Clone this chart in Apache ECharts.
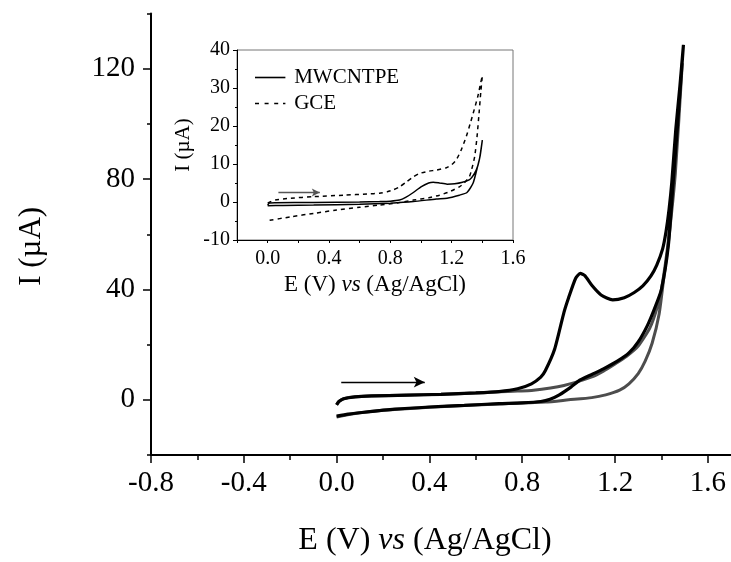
<!DOCTYPE html>
<html>
<head>
<meta charset="utf-8">
<script src="https://cdn.jsdelivr.net/npm/echarts@6/dist/echarts.min.js"></script>
<style>
  html, body { margin: 0; padding: 0; background: #fff; }
  #chart { width: 731px; height: 562px; }
</style>
</head>
<body>
<div id="chart"></div>
<script>
var FONT = '"Liberation Serif", "Times New Roman", serif';

// main plot: CV with analyte (black), forward sweep then reverse sweep
var mainSampleE = [0, 0.01, 0.03, 0.08, 0.15, 0.3, 0.45, 0.6, 0.7, 0.78, 0.84, 0.88, 0.9, 0.94, 0.98, 1.0, 1.03, 1.05, 1.07, 1.1, 1.14, 1.19, 1.24, 1.283, 1.32, 1.355, 1.38, 1.405, 1.42, 1.433, 1.445, 1.462, 1.48, 1.495,
                   1.47, 1.45, 1.43, 1.40, 1.37, 1.34, 1.30, 1.26, 1.21, 1.15, 1.10, 1.05, 1.01, 0.96, 0.92, 0.88, 0.8, 0.7, 0.55, 0.4, 0.25, 0.12, 0.05, 0];
var mainSampleI = [-1.8, -0.6, 0.4, 1.1, 1.4, 1.7, 2.0, 2.5, 3.0, 4.0, 5.8, 8.2, 10.6, 18.4, 31.7, 37, 44, 45.8, 45, 41.5, 38, 36.2, 37, 38.9, 41.3, 44.9, 48.8, 54.6, 61, 69, 79, 98, 114, 128.7,
                   100, 78, 56, 40, 33, 27, 21, 17, 14, 11.2, 9.2, 7.2, 4.6, 1.8, 0.2, -0.6, -1.1, -1.4, -2.0, -2.6, -3.4, -4.5, -5.2, -5.9];

// main plot: blank CV (grey)
var mainBlankE = [0, 0.01, 0.03, 0.08, 0.15, 0.3, 0.45, 0.6, 0.7, 0.78, 0.84, 0.98, 1.097, 1.15, 1.2, 1.25, 1.3, 1.35, 1.38, 1.4, 1.43, 1.46, 1.49,
                  1.46, 1.43, 1.41, 1.39, 1.36, 1.33, 1.3, 1.26, 1.22, 1.16, 1.1, 1.0, 0.9, 0.7, 0.4, 0.2, 0.1, 0];
var mainBlankI = [-1.8, -0.6, 0.4, 1.1, 1.4, 1.7, 2.0, 2.5, 2.9, 3.2, 3.4, 5.2, 8.2, 10.4, 13, 15.8, 19.5, 26, 33, 40, 58, 88, 122,
                  82, 57, 44, 31, 20.5, 14, 9.5, 5.8, 3.5, 1.8, 0.8, 0, -0.8, -1.5, -2.7, -3.8, -4.7, -6.2];

// inset: MWCNTPE (solid) and GCE (dashed)
var insetMwcntE = [0, 0.01, 0.05, 0.3, 0.6, 0.73, 0.8, 0.86, 0.9, 0.95, 1.0, 1.05, 1.08, 1.12, 1.17, 1.22, 1.27, 1.32, 1.36, 1.38, 1.4,
                   1.385, 1.37, 1.34, 1.3, 1.25, 1.17, 1.1, 0.95, 0.8, 0.6, 0.3, 0.1, 0];
var insetMwcntI = [-0.9, -0.3, -0.2, -0.1, 0.0, 0.1, 0.2, 0.5, 1.2, 2.5, 4.0, 5.0, 5.2, 5.0, 4.7, 4.8, 5.2, 6.0, 8.4, 11, 16.3,
                   12, 9.5, 5, 2.5, 1.8, 1.0, 0.8, 0.1, -0.3, -0.6, -0.8, -0.9, -1.0];
var insetGceE = [0, 0.05, 0.15, 0.3, 0.5, 0.65, 0.73, 0.78, 0.82, 0.86, 0.905, 0.95, 0.99, 1.05, 1.1, 1.165, 1.2, 1.23, 1.26, 1.295, 1.32, 1.34, 1.37, 1.39, 1.40,
                 1.39, 1.38, 1.365, 1.35, 1.33, 1.316, 1.28, 1.25, 1.18, 1.12, 1.05, 0.95, 0.85, 0.73, 0.6, 0.45, 0.3, 0.15, 0];
var insetGceI = [-0.3, 0.5, 1.0, 1.4, 1.8, 2.1, 2.3, 2.7, 3.2, 4.0, 5.3, 6.6, 7.5, 8.1, 8.4, 9.0, 9.8, 11.1, 13.5, 17.2, 20.5, 23.3, 27.7, 31.5, 33.2,
                 29, 24, 17, 11.9, 8.5, 6.7, 4.9, 4.0, 2.6, 1.8, 1.1, 0.5, -0.2, -0.8, -1.4, -2.1, -3.0, -3.9, -4.9];

// tick labels
var mainXTicks = [-0.8, -0.4, 0.0, 0.4, 0.8, 1.2, 1.6];
var mainXMinor = [-0.6, -0.2, 0.2, 0.6, 1.0, 1.4];
var mainYTicks = [0, 40, 80, 120];
var insetXTicks = [0.0, 0.4, 0.8, 1.2, 1.6];

// sweep direction arrows (start, end) in data units
var mainArrow = [[0.02, 6.4], [0.38, 6.4]];
var insetArrow = [[0.07, 2.5], [0.34, 2.5]];

function pairs(e, i) {
    return e.map(function (v, k) { return [v, i[k]]; });
}
function fmt1(v) { return v.toFixed(1); }

var myChart = echarts.init(document.getElementById('chart'));

var nameRich = function (size) {
    return {
        n: { fontFamily: FONT, fontSize: size, color: '#000' },
        i: { fontFamily: FONT, fontSize: size, color: '#000', fontStyle: 'italic' }
    };
};

var option = {
    backgroundColor: '#fff',
    animation: false,
    grid: [
        { left: 151, top: 13.6, right: -3, bottom: 105.5 },
        { left: 237, top: 50, right: 218, bottom: 322, show: true, borderColor: '#777', borderWidth: 1, backgroundColor: '#fff', z: 3 }
    ],
    legend: {
        orient: 'vertical',
        left: 255, top: 67,
        padding: 0,
        itemWidth: 38, itemHeight: 1.6, itemGap: 5,
        textStyle: { fontFamily: FONT, fontSize: 21, color: '#000' },
        data: [
            { name: 'MWCNTPE', icon: 'path://M0,0h38v2h-38z' },
            { name: 'GCE', icon: 'path://M0,0h5v2h-5zM12,0h5v2h-5zM24,0h5v2h-5zM35,0h3v2h-3z' }
        ]
    },
    xAxis: [
        {
            gridIndex: 0, type: 'value', position: 'bottom',
            min: -0.8, max: 1.7, interval: 0.4,
            axisLine: { onZero: false, lineStyle: { color: '#000', width: 2 } },
            axisTick: { customValues: mainXTicks, length: 8, lineStyle: { color: '#000', width: 1.5 } },
            axisLabel: { customValues: mainXTicks, formatter: fmt1, margin: 14, fontFamily: FONT, fontSize: 29, color: '#000' },
            splitLine: { show: false },
            name: '{n|E (V) }{i|vs}{n| (Ag/AgCl)}',
            nameLocation: 'middle', nameGap: 70,
            nameTextStyle: { padding: [0, 32, 0, 0], rich: nameRich(32) }
        },
        {
            gridIndex: 0, type: 'value', position: 'bottom',
            min: -0.8, max: 1.7, interval: 0.4,
            axisLine: { show: false, onZero: false },
            axisTick: { customValues: mainXMinor, length: 5, lineStyle: { color: '#000', width: 1.5 } },
            axisLabel: { show: false },
            splitLine: { show: false }
        },
        {
            gridIndex: 1, type: 'value', position: 'bottom',
            min: -0.2, max: 1.6, interval: 0.2,
            axisLine: { onZero: false, lineStyle: { color: '#000', width: 1 } },
            axisTick: { length: 3, lineStyle: { color: '#000' } },
            axisLabel: { customValues: insetXTicks, formatter: fmt1, margin: 9, fontFamily: FONT, fontSize: 20, color: '#000' },
            splitLine: { show: false },
            name: '{n|E (V) }{i|vs}{n| (Ag/AgCl)}',
            nameLocation: 'middle', nameGap: 33,
            nameTextStyle: { rich: nameRich(23) },
            z: 4
        }
    ],
    yAxis: [
        {
            gridIndex: 0, type: 'value', position: 'left',
            min: -20, max: 140, interval: 20,
            axisLine: { show: true, onZero: false, lineStyle: { color: '#000', width: 2 } },
            axisTick: { show: true, customValues: mainYTicks, length: 8, lineStyle: { color: '#000', width: 1.5 } },
            axisLabel: { customValues: mainYTicks, margin: 16, fontFamily: FONT, fontSize: 29, color: '#000' },
            splitLine: { show: false },
            name: 'I (\u00b5A)',
            nameLocation: 'middle', nameGap: 104,
            nameTextStyle: { fontFamily: FONT, fontSize: 31, color: '#000', padding: [0, 24, 0, 0] }
        },
        {
            gridIndex: 0, type: 'value', position: 'left',
            min: -20, max: 140, interval: 20,
            axisLine: { show: false, onZero: false },
            axisTick: { show: true, length: 4, lineStyle: { color: '#000', width: 1.5 } },
            axisLabel: { show: false },
            splitLine: { show: false }
        },
        {
            gridIndex: 1, type: 'value', position: 'left',
            min: -10, max: 40, interval: 10,
            axisLine: { show: true, onZero: false, lineStyle: { color: '#000', width: 1 } },
            axisTick: { show: true, length: 4, lineStyle: { color: '#000' } },
            minorTick: { show: true, splitNumber: 2, length: 2, lineStyle: { color: '#000' } },
            axisLabel: { margin: 7, fontFamily: FONT, fontSize: 20, color: '#000' },
            splitLine: { show: false },
            name: 'I (\u00b5A)',
            nameLocation: 'middle', nameGap: 43,
            nameTextStyle: { fontFamily: FONT, fontSize: 21, color: '#000' },
            z: 4
        }
    ],
    series: [
        {
            name: 'blank', type: 'line',
            xAxisIndex: 0, yAxisIndex: 0,
            data: pairs(mainBlankE, mainBlankI),
            symbol: 'none', smooth: 0.2,
            lineStyle: { color: '#4d4d4d', width: 3 },
            z: 2
        },
        {
            name: 'sample', type: 'line',
            xAxisIndex: 0, yAxisIndex: 0,
            data: pairs(mainSampleE, mainSampleI),
            symbol: 'none', smooth: 0.2,
            lineStyle: { color: '#000', width: 3.2 },
            z: 3,
            markLine: {
                silent: true, animation: false,
                symbol: ['none', 'arrow'], symbolSize: [8, 11],
                label: { show: false },
                lineStyle: { color: '#000', width: 1.3, type: 'solid' },
                data: [[{ coord: mainArrow[0] }, { coord: mainArrow[1] }]]
            }
        },
        {
            name: 'MWCNTPE', type: 'line',
            xAxisIndex: 2, yAxisIndex: 2,
            data: pairs(insetMwcntE, insetMwcntI),
            symbol: 'none', smooth: 0.2,
            lineStyle: { color: '#000', width: 1.5 },
            itemStyle: { color: '#000' },
            z: 5,
            markLine: {
                silent: true, animation: false,
                symbol: ['none', 'arrow'], symbolSize: [6, 8],
                label: { show: false },
                lineStyle: { color: '#555', width: 1.3, type: 'solid' },
                data: [[{ coord: insetArrow[0] }, { coord: insetArrow[1] }]]
            }
        },
        {
            name: 'GCE', type: 'line',
            xAxisIndex: 2, yAxisIndex: 2,
            data: pairs(insetGceE, insetGceI),
            symbol: 'none', smooth: 0.2,
            lineStyle: { color: '#000', width: 1.5, type: [4, 4] },
            itemStyle: { color: '#000' },
            z: 5
        }
    ]
};
myChart.setOption(option);
</script>
</body>
</html>
